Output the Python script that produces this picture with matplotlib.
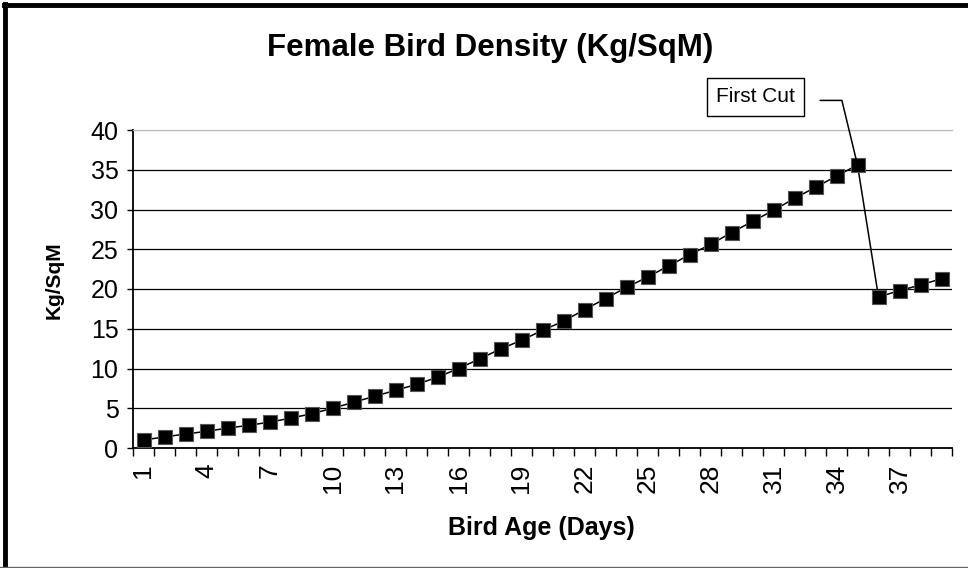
import matplotlib
matplotlib.use("Agg")
import matplotlib.pyplot as plt
from matplotlib.lines import Line2D
import numpy as np

plt.rcParams["font.family"] = ["Liberation Sans", "DejaVu Sans"]

days = np.arange(1, 40)
density = [1.0, 1.4, 1.75, 2.1, 2.5, 2.85, 3.25, 3.75, 4.3, 5.0,
           5.75, 6.5, 7.25, 8.0, 8.9, 10.0, 11.2, 12.45, 13.55, 14.8,
           15.95, 17.4, 18.8, 20.2, 21.5, 22.9, 24.3, 25.6, 27.1, 28.5,
           29.9, 31.4, 32.8, 34.2, 35.6, 19.0, 19.8, 20.5, 21.3]
day_labels = [str(d) for d in range(1, 40, 3)]
y_ticks = list(range(0, 45, 5))

W, H = 968, 568
fig = plt.figure(figsize=(W / 100, H / 100), dpi=100)
ax = fig.add_axes([133 / W, 1 - 448 / H, (952 - 133) / W, (448 - 130) / H])

ax.plot(days, density, color="black", lw=1.1, marker="s", ms=9.8,
        mfc="black", mec="#555555", mew=0.8, zorder=5, clip_on=False)

ax.set_xlim(0.5, 39.5)
ax.set_ylim(0, 40)

# y axis
ax.set_yticks(y_ticks)
ax.tick_params(axis="y", direction="out", length=4.5, width=1, labelsize=18, pad=6)
ax.yaxis.grid(True, color="black", lw=0.9)
ax.set_axisbelow(True)
for gl in ax.yaxis.get_gridlines()[-1:]:
    gl.set_color("#bbbbbb")

# x axis: tick marks on category boundaries, labels every third day
ax.set_xticks(np.arange(0.5, 40.5, 1))
ax.set_xticklabels([])
ax.tick_params(axis="x", which="major", direction="out", length=6, width=1)
ax.set_xticks(days[::3], minor=True)
ax.set_xticklabels(day_labels, minor=True, rotation=90, fontsize=19)
ax.tick_params(axis="x", which="minor", length=0, pad=11)

for s in ["left", "bottom"]:
    ax.spines[s].set_color("black")
    ax.spines[s].set_linewidth(1.3)
ax.spines["right"].set_visible(False)
ax.spines["top"].set_color("#bbbbbb")
ax.spines["top"].set_linewidth(0.9)

ax.annotate("First Cut", xy=(days[34], density[34]),
            xytext=(755.5, H - 97), textcoords="figure pixels",
            ha="center", va="center", fontsize=15,
            bbox=dict(boxstyle="square,pad=0.45", fc="white", ec="black", lw=1),
            arrowprops=dict(arrowstyle="-", color="black", lw=1.1,
                            connectionstyle="angle,angleA=0,angleB=103.6,rad=0",
                            relpos=(1, 0.32), shrinkA=11, shrinkB=0),
            zorder=6)

fig.text(490 / W, 1 - 48 / H, "Female Bird Density (Kg/SqM)",
         ha="center", va="center", fontsize=22.5, fontweight="bold")
fig.text(541.5 / W, 1 - 528 / H, "Bird Age (Days)",
         ha="center", va="center", fontsize=18, fontweight="bold")
fig.text(54 / W, 1 - 280 / H, "Kg/SqM", rotation=90,
         ha="center", va="center", fontsize=15, fontweight="bold")

# chart frame
fig.add_artist(Line2D([5 / W, 5 / W], [0, 1 - 4 / H], color="black", lw=3.5,
                      transform=fig.transFigure))
fig.add_artist(Line2D([3.5 / W, 1], [1 - 4.5 / H, 1 - 4.5 / H], color="black",
                      lw=3.5, transform=fig.transFigure))
fig.add_artist(Line2D([0, 1], [1.5 / H, 1.5 / H], color="#666666", lw=1,
                      transform=fig.transFigure))

fig.savefig("out.png", dpi=100)
